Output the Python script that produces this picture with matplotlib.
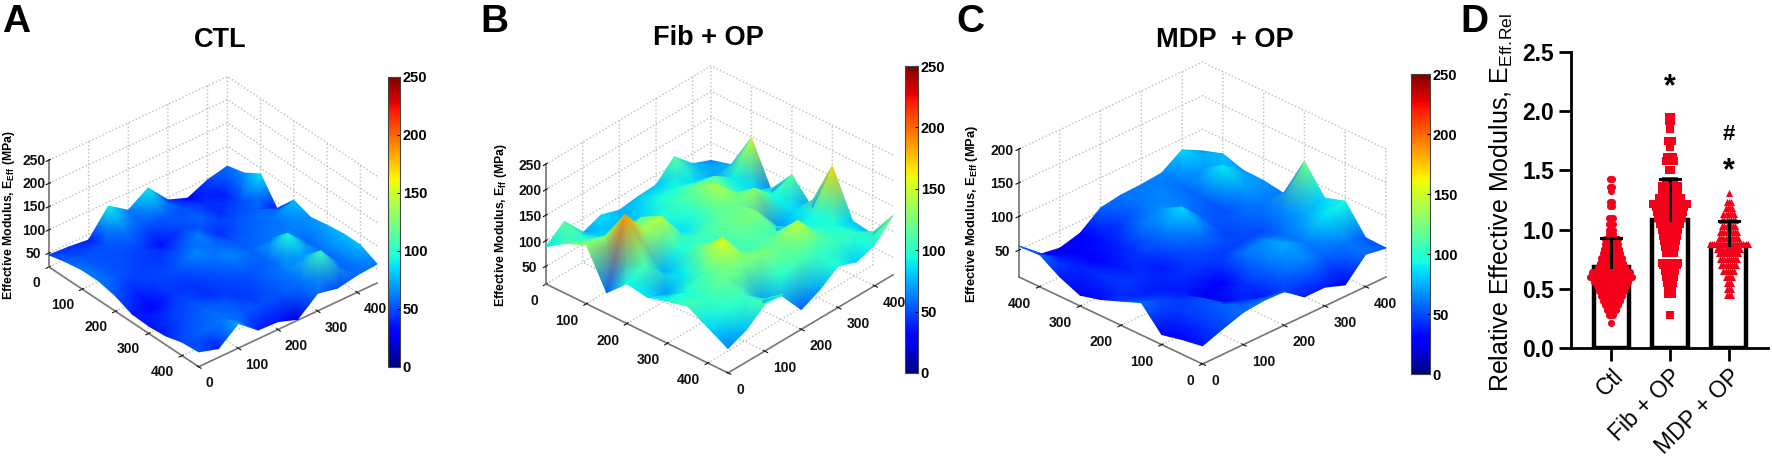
import numpy as np
import matplotlib
matplotlib.use('Agg')
import matplotlib.pyplot as plt
from matplotlib.colors import Normalize
from matplotlib.cm import ScalarMappable
from mpl_toolkits.mplot3d import proj3d

W, H = 1772, 457

plt.rcParams['font.family'] = ['Liberation Sans', 'DejaVu Sans']
plt.rcParams['mathtext.fontset'] = 'custom'
plt.rcParams['mathtext.rm'] = 'Liberation Sans'
plt.rcParams['mathtext.bf'] = 'Liberation Sans:bold'
plt.rcParams['grid.color'] = '#bdbdbd'
plt.rcParams['grid.linestyle'] = ':'
plt.rcParams['grid.linewidth'] = 1.0

# indentation grid positions (um)
grid_pts = np.arange(0, 500, 50)

# effective modulus maps (MPa), rows = x axis, cols = y axis
ctl_map = np.array([
    [46, 43, 38, 91, 62, 90, 44, 28, 47, 57],
    [55, 50, 52, 60, 50, 55, 50, 42, 38, 66],
    [61, 52, 50, 46, 35, 48, 55, 42, 50, 88],
    [61, 52, 47, 44, 50, 62, 42, 52, 56, 36],
    [53, 40, 47, 50, 64, 58, 52, 56, 60, 79],
    [38, 30, 44, 44, 52, 64, 56, 60, 62, 66],
    [36, 44, 50, 42, 47, 52, 56, 95, 56, 73],
    [39, 50, 56, 52, 44, 52, 62, 70, 60, 78],
    [49, 56, 60, 54, 50, 52, 60, 105, 55, 78],
    [52, 39, 73, 39, 37, 22, 58, 49, 57, 61]])

fib_map = np.array([
    [88, 116, 72, 86, 74, 79, 81, 115, 80, 65],
    [114, 100, 85, 75, 82, 95, 95, 85, 72, 76],
    [130, 125, 110, 120, 95, 105, 120, 115, 90, 148],
    [56, 187, 138, 141, 85, 100, 140, 100, 85, 62],
    [93, 110, 75, 95, 105, 115, 120, 130, 95, 114],
    [86, 70, 90, 120, 110, 120, 125, 62, 85, 69],
    [97, 95, 110, 157, 105, 110, 105, 90, 95, 170],
    [107, 105, 120, 120, 125, 120, 146, 105, 95, 82],
    [85, 100, 105, 69, 100, 110, 105, 105, 100, 75],
    [63, 78, 106, 105, 54, 71, 96, 83, 95, 131]])

mdp_map = np.array([
    [56, 29, 24, 32, 55, 60, 61, 64, 84, 68],
    [58, 38, 30, 35, 45, 60, 65, 58, 70, 78],
    [39, 40, 32, 40, 60, 68, 62, 55, 89, 68],
    [26, 42, 38, 45, 60, 85, 55, 50, 70, 67],
    [34, 45, 42, 38, 50, 60, 48, 55, 60, 62],
    [46, 40, 38, 42, 45, 45, 48, 50, 65, 124],
    [58, 48, 40, 25, 32, 60, 65, 58, 72, 84],
    [25, 45, 50, 25, 42, 60, 74, 62, 88, 94],
    [32, 45, 55, 45, 38, 55, 65, 55, 62, 54],
    [37, 48, 58, 61, 60, 38, 38, 27, 58, 53]])

# panel D
groups = ['Ctl', 'Fib + OP', 'MDP + OP']
bar_means = [0.68, 1.08, 0.87]
bar_tops = [0.93, 1.43, 1.07]
ctl_levels = [0.21, 0.28, 0.32, 0.36, 0.40, 0.44, 0.48, 0.52, 0.56, 0.60, 0.64, 0.68, 0.72,
              0.76, 0.80, 0.84, 0.88, 0.92, 0.96, 1.00, 1.05, 1.10, 1.20, 1.23, 1.33, 1.36, 1.43]
ctl_counts = [1, 3, 5, 7, 9, 11, 13, 15, 17, 21, 19, 14, 12, 11, 9, 8, 7, 7, 3, 3, 3, 3, 2, 2, 1, 2, 2]
fib_levels = [0.28, 0.46, 0.50, 0.55, 0.60, 0.65, 0.70, 0.72, 0.80, 0.85, 0.90, 0.95, 1.00,
              1.05, 1.10, 1.15, 1.19, 1.22, 1.27, 1.32, 1.37, 1.41, 1.50, 1.58, 1.61, 1.70,
              1.75, 1.85, 1.92, 1.95]
fib_counts = [1, 3, 3, 4, 5, 6, 8, 9, 5, 6, 7, 8, 9, 10, 12, 13, 14, 17, 11, 9, 9, 5, 2, 5, 4, 1, 3, 1, 2, 2]
mdp_levels = [0.45, 0.50, 0.55, 0.60, 0.65, 0.70, 0.75, 0.80, 0.84, 0.88, 0.93, 0.98, 1.03,
              1.08, 1.13, 1.18, 1.23, 1.31]
mdp_counts = [3, 3, 3, 4, 6, 8, 9, 10, 12, 19, 10, 9, 7, 7, 6, 4, 3, 1]
all_levels = [ctl_levels, fib_levels, mdp_levels]
all_counts = [ctl_counts, fib_counts, mdp_counts]
marks = ['o', 's', '^']

fig = plt.figure(figsize=(W / 100, H / 100), dpi=100)
norm = Normalize(0, 250)
cbar_ticks = [0, 50, 100, 150, 200, 250]


def frac(x, y):
    return x / W, 1 - y / H


def rect(x0, y0, x1, y1):
    # pixel box (y down) to figure fractions
    return [x0 / W, 1 - y1 / H, (x1 - x0) / W, (y1 - y0) / H]


def to_px(ax, xs, ys, zs):
    xp, yp, _ = proj3d.proj_transform(xs, ys, zs, ax.get_proj())
    pts = ax.transData.transform(np.column_stack([np.ravel(xp), np.ravel(yp)]))
    return pts[:, 0], pts[:, 1]


def make_box(xlim, zlim, ztop_ticks, elev, azim, zratio, left_px, right_px):
    ax = fig.add_axes(rect(0, 0, 457, 457), projection='3d', proj_type='ortho')
    ax.patch.set_alpha(0)
    ax.view_init(elev=elev, azim=azim)
    ax.set_xlim(*xlim)
    ax.set_ylim(0, 450)
    ax.set_zlim(*zlim)
    ax.set_box_aspect((1, 1, zratio))
    ax.apply_aspect()
    # scale so the floor spans the same pixels as the reference
    px, _ = to_px(ax, [xlim[0], xlim[1]], [0, 450], [zlim[0], zlim[0]])
    ax.set_box_aspect((1, 1, zratio), zoom=(right_px[0] - left_px[0]) / (px[1] - px[0]))
    px, py = to_px(ax, [xlim[0]], [0], [zlim[0]])
    dx, dy = left_px[0] - px[0], (H - left_px[1]) - py[0]
    pos = ax.get_position()
    ax.set_position([pos.x0 + dx / W, pos.y0 + dy / H, pos.width, pos.height])
    ax.apply_aspect()

    ax.set_xticks([0, 100, 200, 300, 400])
    ax.set_yticks([0, 100, 200, 300, 400])
    ax.set_zticks(ztop_ticks)
    for a in (ax.xaxis, ax.yaxis, ax.zaxis):
        a.set_pane_color((1, 1, 1, 0))
        a.pane.set_edgecolor('#d0d0d0')
        a.line.set_color('#777777')
        a.line.set_linewidth(1.2)
    ax.zaxis.set_ticks_position('lower')
    ax.tick_params(labelsize=10, pad=0, colors='#111111', length=2)
    for lab in ax.get_xticklabels():
        lab.set_fontweight('bold')
        lab.set_ha('right')
    for lab in ax.get_yticklabels():
        lab.set_fontweight('bold')
        lab.set_ha('left')
    for lab in ax.get_zticklabels():
        lab.set_fontweight('bold')
        lab.set_va('center_baseline')
    return ax


def add_cbar(x0, y0, x1, y1):
    cax = fig.add_axes(rect(x0, y0, x1, y1))
    cb = fig.colorbar(ScalarMappable(norm=norm, cmap='jet'), cax=cax, ticks=cbar_ticks)
    cax.tick_params(direction='in', length=2, width=0.8, pad=2, labelsize=10.5)
    for lab in cax.get_yticklabels():
        lab.set_fontweight('bold')
    cb.outline.set_linewidth(0.8)
    cb.outline.set_edgecolor('#444444')


ax_a = make_box((0, 450), (20, 250), [50, 100, 150, 200, 250], 34, -40, 0.554, (49, 267), (377, 285))
ax_b = make_box((0, 450), (15, 250), [50, 100, 150, 200, 250], 32.6, -47.8, 0.58, (546, 284), (893, 275))
ax_c = make_box((450, 0), (10, 200), [50, 100, 150, 200], 28.3, -45, 0.56, (1019, 277), (1386, 279))

add_cbar(388, 77, 400, 367)
add_cbar(905, 66, 918, 373)
add_cbar(1411, 74, 1430, 374)

# surfaces go in a pixel-space overlay, pcolormesh gouraud gives the interp shading,
# rows run back to front so later quads paint over earlier ones
overlay = fig.add_axes([0, 0, 1, 1], zorder=5)
overlay.set_xlim(0, W)
overlay.set_ylim(0, H)
overlay.axis('off')

for ax, zmap, flip in [(ax_a, ctl_map, False), (ax_b, fib_map, False), (ax_c, mdp_map, True)]:
    xv = grid_pts[::-1] if flip else grid_pts
    xx, yy = np.meshgrid(xv, grid_pts[::-1], indexing='ij')
    zz = zmap[:, ::-1]
    px, py = to_px(ax, xx.ravel(), yy.ravel(), zz.ravel())
    overlay.pcolormesh(px.reshape(xx.shape), py.reshape(xx.shape), zz, shading='gouraud',
                       cmap='jet', norm=norm)

# panel letters and titles
for s, x, y in [('A', 2, 32), ('B', 480, 32), ('C', 956, 32), ('D', 1460, 32)]:
    fx, fy = frac(x, y)
    fig.text(fx, fy, s, fontsize=28, fontweight='bold', ha='left', va='baseline')
for s, x, y in [('CTL', 220, 47), ('Fib + OP', 708, 45), ('MDP  + OP', 1225, 47)]:
    fx, fy = frac(x, y)
    fig.text(fx, fy, s, fontsize=19.5, fontweight='bold', ha='center', va='baseline')

# z labels
for s, x, y, fs in [(r'Effective Modulus, E$_{\mathbf{Eff}}$ (MPa)', 9, 215, 8.8),
                    (r'Effective Modulus, E$_{\mathbf{ff}}$ (MPa)', 501, 225, 8.8),
                    (r'Effective Modulus, E$_{\mathbf{Eff}}$ (MPa)', 972, 214, 9.3)]:
    fx, fy = frac(x, y)
    fig.text(fx, fy, s, fontsize=fs, fontweight='bold', rotation=90, ha='center', va='center')

# panel D
ax_d = fig.add_axes(rect(1571, 52, 1768, 348))
xpos = np.arange(3)
ax_d.bar(xpos, bar_means, width=0.60, facecolor='none', edgecolor='black', linewidth=3.2, zorder=1)
step = 0.036
for k in range(3):
    yvals = np.repeat(all_levels[k], all_counts[k])
    xvals = []
    for n in all_counts[k]:
        off = (np.arange(n) - (n - 1) / 2) * step
        xvals.extend(xpos[k] + off)
    ax_d.scatter(xvals, yvals, marker=marks[k], s=26, color='#f5001a', linewidths=0, zorder=2)
    ax_d.plot([xpos[k], xpos[k]], [bar_means[k], bar_tops[k]], color='black', lw=2.2, zorder=3)
    ax_d.plot([xpos[k] - 0.17, xpos[k] + 0.17], [bar_tops[k], bar_tops[k]], color='black', lw=2.2, zorder=3)
ax_d.set_xlim(-0.687, 2.67)
ax_d.set_ylim(0, 2.5)
ax_d.set_yticks([0, 0.5, 1.0, 1.5, 2.0, 2.5])
ax_d.set_yticklabels(['0.0', '0.5', '1.0', '1.5', '2.0', '2.5'], fontsize=16.5, fontweight='bold')
ax_d.set_xticks(xpos)
ax_d.set_xticklabels(groups, rotation=45, ha='right', rotation_mode='anchor', fontsize=16.5)
ax_d.tick_params(width=2, length=9, pad=3)
ax_d.spines['top'].set_visible(False)
ax_d.spines['right'].set_visible(False)
ax_d.spines['left'].set_linewidth(2)
ax_d.spines['bottom'].set_linewidth(2)
ax_d.text(1, 2.20, '*', fontsize=22, fontweight='bold', ha='center', va='center')
ax_d.text(2, 1.80, '#', fontsize=16, fontweight='bold', ha='center', va='center')
ax_d.text(2, 1.49, '*', fontsize=22, fontweight='bold', ha='center', va='center')
fx, fy = frac(1501, 202)
fig.text(fx, fy, r'Relative Effective Modulus, E$_{\mathrm{Eff.\!Rel}}$', fontsize=18,
         rotation=90, ha='center', va='center')

fig.savefig('out.png', dpi=100)
